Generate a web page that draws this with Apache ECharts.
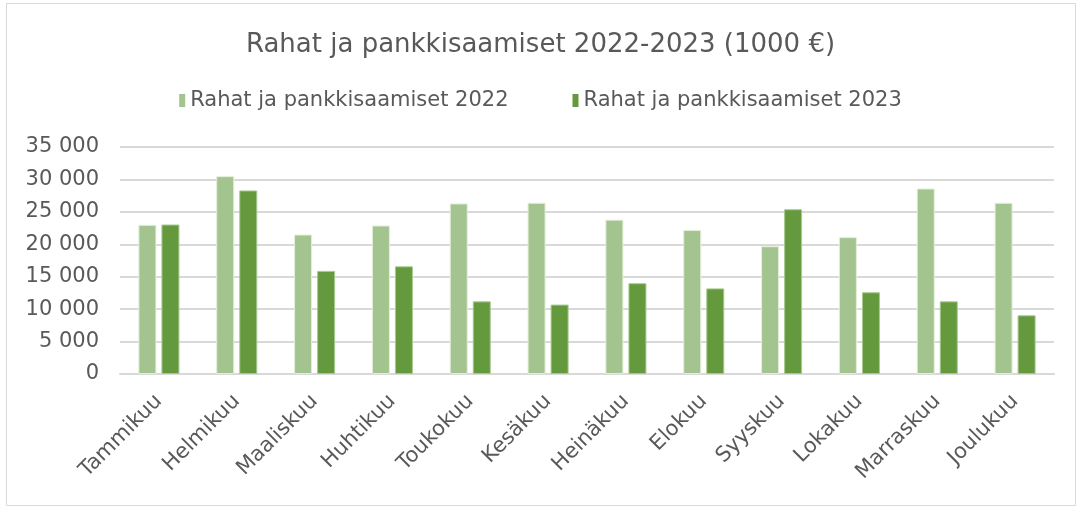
<!DOCTYPE html>
<html>
<head>
<meta charset="utf-8">
<script src="https://cdn.jsdelivr.net/npm/echarts@6/dist/echarts.min.js"></script>
<style>
  html, body { margin: 0; padding: 0; background: #fff; }
  #chart { width: 1081px; height: 508px; }
</style>
</head>
<body>
<div id="chart"></div>
<script>
// kuukaudet
var kuukaudet = ['Tammikuu', 'Helmikuu', 'Maaliskuu', 'Huhtikuu', 'Toukokuu', 'Kesäkuu',
                 'Heinäkuu', 'Elokuu', 'Syyskuu', 'Lokakuu', 'Marraskuu', 'Joulukuu'];

// arvot (1000 €), luettu kuvasta
var arvot2022 = [23000, 30500, 21500, 22900, 26300, 26400, 23800, 22200, 19700, 21100, 28600, 26400];
var arvot2023 = [23050, 28300, 15900, 16600, 11200, 10700, 14000, 13200, 25400, 12600, 11200, 9050];

var sarjaNimet = ['Rahat ja pankkisaamiset 2022', 'Rahat ja pankkisaamiset 2023'];
var yTicks = [0, 5000, 10000, 15000, 20000, 25000, 30000, 35000];

var fontti = '"DejaVu Sans", Verdana, sans-serif';
var teksti = '#595959';

var chart = echarts.init(document.getElementById('chart'));

var option = {
    backgroundColor: '#fff',
    animation: false,
    title: {
        text: 'Rahat ja pankkisaamiset 2022-2023 (1000 €)',
        left: 'center',
        top: 27,
        textStyle: { color: teksti, fontFamily: fontti, fontSize: 26, fontWeight: 'normal' }
    },
    legend: {
        data: sarjaNimet,
        top: 85,
        left: 'center',
        itemWidth: 6,
        itemHeight: 13,
        itemGap: 64,
        itemTextGap: 4,
        icon: 'rect',
        itemStyle: { borderWidth: 0 },
        textStyle: { color: teksti, fontFamily: fontti, fontSize: 21 }
    },
    // reunus
    graphic: [{
        type: 'rect',
        shape: { x: 6.5, y: 3.5, width: 1069, height: 502 },
        style: { fill: 'none', stroke: '#d9d9d9', lineWidth: 1 },
        silent: true
    }],
    grid: { left: 120, right: 27, top: 147, bottom: 134 },
    xAxis: {
        type: 'category',
        data: kuukaudet,
        axisTick: { show: false },
        axisLine: { lineStyle: { color: '#d9d9d9', width: 2 } },
        axisLabel: {
            rotate: 45,
            color: teksti,
            fontFamily: fontti,
            fontSize: 21,
            margin: 24,
            interval: 0
        }
    },
    yAxis: {
        type: 'value',
        min: yTicks[0],
        max: yTicks[yTicks.length - 1],
        interval: 5000,
        axisLine: { show: false },
        axisTick: { show: false },
        splitLine: { lineStyle: { color: '#d9d9d9', width: 2 } },
        axisLabel: {
            color: teksti,
            fontFamily: fontti,
            fontSize: 21,
            margin: 21,
            formatter: function (v) {
                return String(v).replace(/\B(?=(\d{3})+(?!\d))/g, ' ');
            }
        }
    },
    series: [
        {
            name: sarjaNimet[0],
            type: 'bar',
            data: arvot2022,
            barWidth: 18,
            barGap: '28%',
            itemStyle: { color: '#a3c48f', borderColor: '#e2eed9', borderWidth: 1 }
        },
        {
            name: sarjaNimet[1],
            type: 'bar',
            data: arvot2023,
            barWidth: 18,
            barGap: '28%',
            itemStyle: { color: '#64993d', borderColor: '#a9c98f', borderWidth: 1 }
        }
    ]
};

chart.setOption(option);
</script>
</body>
</html>
